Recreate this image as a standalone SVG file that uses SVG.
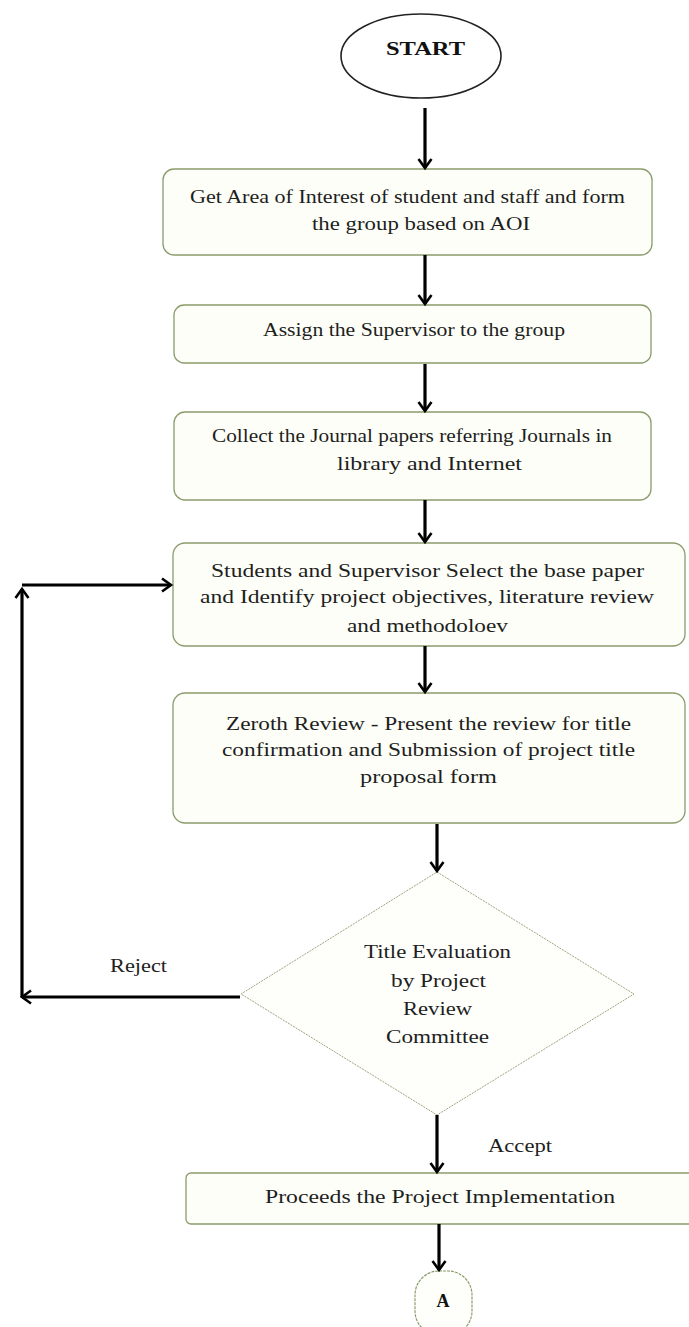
<svg xmlns="http://www.w3.org/2000/svg" width="689" height="1327" viewBox="0 0 689 1327">
<style>
.box{fill:#fdfef8;stroke:#8a9c6c;stroke-width:1.3}
.dia{fill:#fefffb;stroke:#98a77c;stroke-width:1;stroke-dasharray:2 1}
.t{font-family:"Liberation Serif","Times New Roman",serif;font-size:18px;fill:#1e1e1e;text-anchor:middle}
.b{font-weight:bold;fill:#111}
.c{fill:none;stroke:#000;stroke-width:3.2}
</style>
<defs>
<marker id="ah" markerWidth="16" markerHeight="16" refX="12" refY="8" orient="auto" markerUnits="userSpaceOnUse">
<path d="M3,1.5 L12,8 L3,14.5" fill="none" stroke="#000" stroke-width="2.6"/>
</marker>
</defs>
<rect width="689" height="1327" fill="#ffffff"/>

<g id="start">
<ellipse cx="421" cy="56" rx="80" ry="42" fill="#fff" stroke="#222" stroke-width="1.6"/>
<text class="t b" x="425.5" y="55" font-size="20" textLength="79" lengthAdjust="spacingAndGlyphs">START</text>
</g>

<g id="n1">
<rect class="box" x="163" y="169" width="489" height="86" rx="11"/>
<text class="t" x="407.5" y="203" textLength="435" lengthAdjust="spacingAndGlyphs">Get Area of Interest of student and staff and form</text>
<text class="t" x="421" y="230" textLength="218" lengthAdjust="spacingAndGlyphs">the group based on AOI</text>
</g>

<g id="n2">
<rect class="box" x="174" y="305" width="477" height="58" rx="10"/>
<text class="t" x="414" y="336" textLength="302" lengthAdjust="spacingAndGlyphs">Assign the Supervisor to the group</text>
</g>

<g id="n3">
<rect class="box" x="174" y="412" width="477" height="88" rx="11"/>
<text class="t" x="412" y="442" textLength="400" lengthAdjust="spacingAndGlyphs">Collect the Journal papers referring Journals in</text>
<text class="t" x="429.5" y="470" textLength="185" lengthAdjust="spacingAndGlyphs">library and Internet</text>
</g>

<g id="n4">
<rect class="box" x="173" y="543" width="512" height="103" rx="12"/>
<text class="t" x="427.5" y="577" textLength="433" lengthAdjust="spacingAndGlyphs">Students and Supervisor Select the base paper</text>
<text class="t" x="427" y="603" textLength="454" lengthAdjust="spacingAndGlyphs">and Identify project objectives, literature review</text>
<text class="t" x="427.5" y="632" textLength="161" lengthAdjust="spacingAndGlyphs">and methodoloev</text>
</g>

<g id="n5">
<rect class="box" x="173" y="693" width="512" height="130" rx="12"/>
<text class="t" x="428.5" y="730" textLength="405" lengthAdjust="spacingAndGlyphs">Zeroth Review - Present the review for title</text>
<text class="t" x="428.5" y="756" textLength="413" lengthAdjust="spacingAndGlyphs">confirmation and Submission of project title</text>
<text class="t" x="428.5" y="783" textLength="137" lengthAdjust="spacingAndGlyphs">proposal form</text>
</g>

<g id="decision">
<polygon class="dia" points="437,872 634,994 437,1115 241,994"/>
<text class="t" x="437.5" y="958" textLength="147" lengthAdjust="spacingAndGlyphs">Title Evaluation</text>
<text class="t" x="438.5" y="987" textLength="95" lengthAdjust="spacingAndGlyphs">by Project</text>
<text class="t" x="437.5" y="1015" textLength="69" lengthAdjust="spacingAndGlyphs">Review</text>
<text class="t" x="437.5" y="1043" textLength="103" lengthAdjust="spacingAndGlyphs">Committee</text>
</g>

<g id="n6">
<rect class="box" x="186" y="1173" width="515" height="51" rx="5"/>
<text class="t" x="440" y="1203" textLength="350" lengthAdjust="spacingAndGlyphs">Proceeds the Project Implementation</text>
</g>

<g id="connA">
<rect x="415" y="1271" width="57" height="64" rx="24" fill="#fefffb" stroke="#8a9c6c" stroke-width="1.2" stroke-dasharray="3 1"/>
<text class="t b" x="443" y="1307" font-size="17">A</text>
</g>

<g id="connectors">
<line class="c" x1="425" y1="108" x2="425" y2="168" marker-end="url(#ah)"/>
<line class="c" x1="425" y1="255" x2="425" y2="304" marker-end="url(#ah)"/>
<line class="c" x1="425" y1="364" x2="425" y2="411" marker-end="url(#ah)"/>
<line class="c" x1="425" y1="500" x2="425" y2="542" marker-end="url(#ah)"/>
<line class="c" x1="425" y1="646" x2="425" y2="692" marker-end="url(#ah)"/>
<line class="c" x1="437" y1="824" x2="437" y2="871" marker-end="url(#ah)"/>
<line class="c" x1="437" y1="1115" x2="437" y2="1172" marker-end="url(#ah)"/>
<line class="c" x1="439" y1="1224" x2="439" y2="1270" marker-end="url(#ah)"/>
<line class="c" x1="240" y1="997" x2="22" y2="997" marker-end="url(#ah)"/>
<line class="c" x1="22" y1="997" x2="22" y2="589" marker-end="url(#ah)"/>
<line class="c" x1="22" y1="585" x2="171" y2="585" marker-end="url(#ah)"/>
<text class="t" x="138.5" y="972" textLength="57" lengthAdjust="spacingAndGlyphs">Reject</text>
<text class="t" x="520" y="1152" textLength="64" lengthAdjust="spacingAndGlyphs">Accept</text>
</g>
</svg>
